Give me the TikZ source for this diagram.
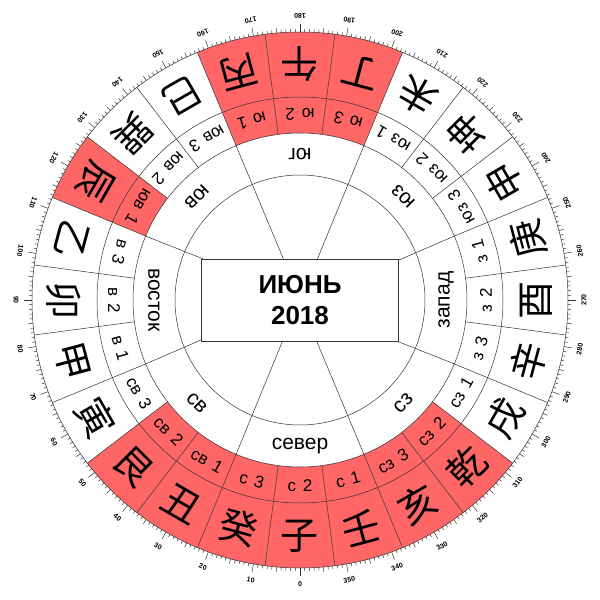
\documentclass[tikz,border=0pt]{standalone}
\usepackage{fontspec}
\setmainfont{Liberation Sans}
\newfontfamily\cjk{Noto Sans CJK SC}
\definecolor{hl}{HTML}{FF6666}
\definecolor{linec}{HTML}{333333}
\begin{document}
\begin{tikzpicture}[x=1pt,y=1pt,
  ln/.style={draw=linec,line width=0.5pt},
  chr/.style={font=\cjk\fontsize{38}{40}\selectfont,inner sep=0pt},
  sub/.style={font=\fontsize{17}{18}\selectfont,inner sep=0pt},
  dir/.style={font=\fontsize{21}{22}\selectfont,inner sep=0pt},
  deg/.style={font=\bfseries\fontsize{7}{8}\selectfont,inner sep=0pt}]
\useasboundingbox (-300,-300) rectangle (300,300);
\fill[white] (-300,-300) rectangle (300,300);
\foreach \t in {165,180,195,120,45,30,15,0,345,330,315}{
  \pgfmathsetmacro\aa{270-\t-7.5}
  \pgfmathsetmacro\bb{270-\t+7.5}
  \fill[hl] (\aa:167) arc[start angle=\aa,end angle=\bb,radius=167] -- (\bb:268) arc[start angle=\bb,end angle=\aa,radius=268] -- cycle;
}
\foreach \r in {125,167,203,268} \draw[ln] (0,0) circle[radius=\r];
\foreach \k in {0,...,23}{
  \pgfmathsetmacro\a{270-7.5-15*\k}
  \draw[ln] (\a:167) -- (\a:268);
}
\foreach \i in {0,...,359}{
  \pgfmathsetmacro\L{mod(\i,10)==0 ? 8 : (mod(\i,5)==0 ? 5 : 3)}
  \pgfmathsetmacro\a{270-\i}
  \draw[draw=linec,line width=0.5pt] (\a:268) -- (\a:268+\L);
}
\foreach \d in {0,10,...,350}{
  \pgfmathsetmacro\a{270-\d}
  \node[deg,rotate=-\d] (g\d) at (\a:284) {\d};
}
\foreach \t/\c/\p/\q [count=\n] in {165/丙/ю/1,180/午/ю/2,195/丁/ю/3,210/未/юз/1,225/坤/юз/2,240/申/юз/3,255/庚/з/1,270/酉/з/2,285/辛/з/3,300/戌/сз/1,315/乾/сз/2,330/亥/сз/3,345/壬/с/1,0/子/с/2,15/癸/с/3,30/丑/св/1,45/艮/св/2,60/寅/св/3,75/甲/в/1,90/卯/в/2,105/乙/в/3,120/辰/юв/1,135/巽/юв/2,150/巳/юв/3}{
  \pgfmathsetmacro\a{270-\t}
  \node[chr,rotate=-\t] (c\n) at (\a:236) {\c};
  \node[sub,rotate=-\t] (s\n) at (\a:186) {\p\hspace{0.4em}\q};
}
\foreach \t/\w [count=\n] in {180/юг,225/юз,270/запад,315/сз,0/север,45/св,90/восток,135/юв}{
  \pgfmathsetmacro\a{270-\t}
  \node[dir,rotate=-\t] (d\n) at (\a:146) {\w};
}
\node[ln,fill=white,minimum width=197pt,minimum height=82pt,inner sep=0pt,align=center,
  font=\bfseries\fontsize{26}{31}\selectfont] (box) at (0,0) {ИЮНЬ\\2018};
\foreach \a in {22.5,67.5,112.5,157.5,202.5,247.5,292.5,337.5}
  \draw[ln] (box.\a) -- (\a:167);
\end{tikzpicture}
\end{document}
